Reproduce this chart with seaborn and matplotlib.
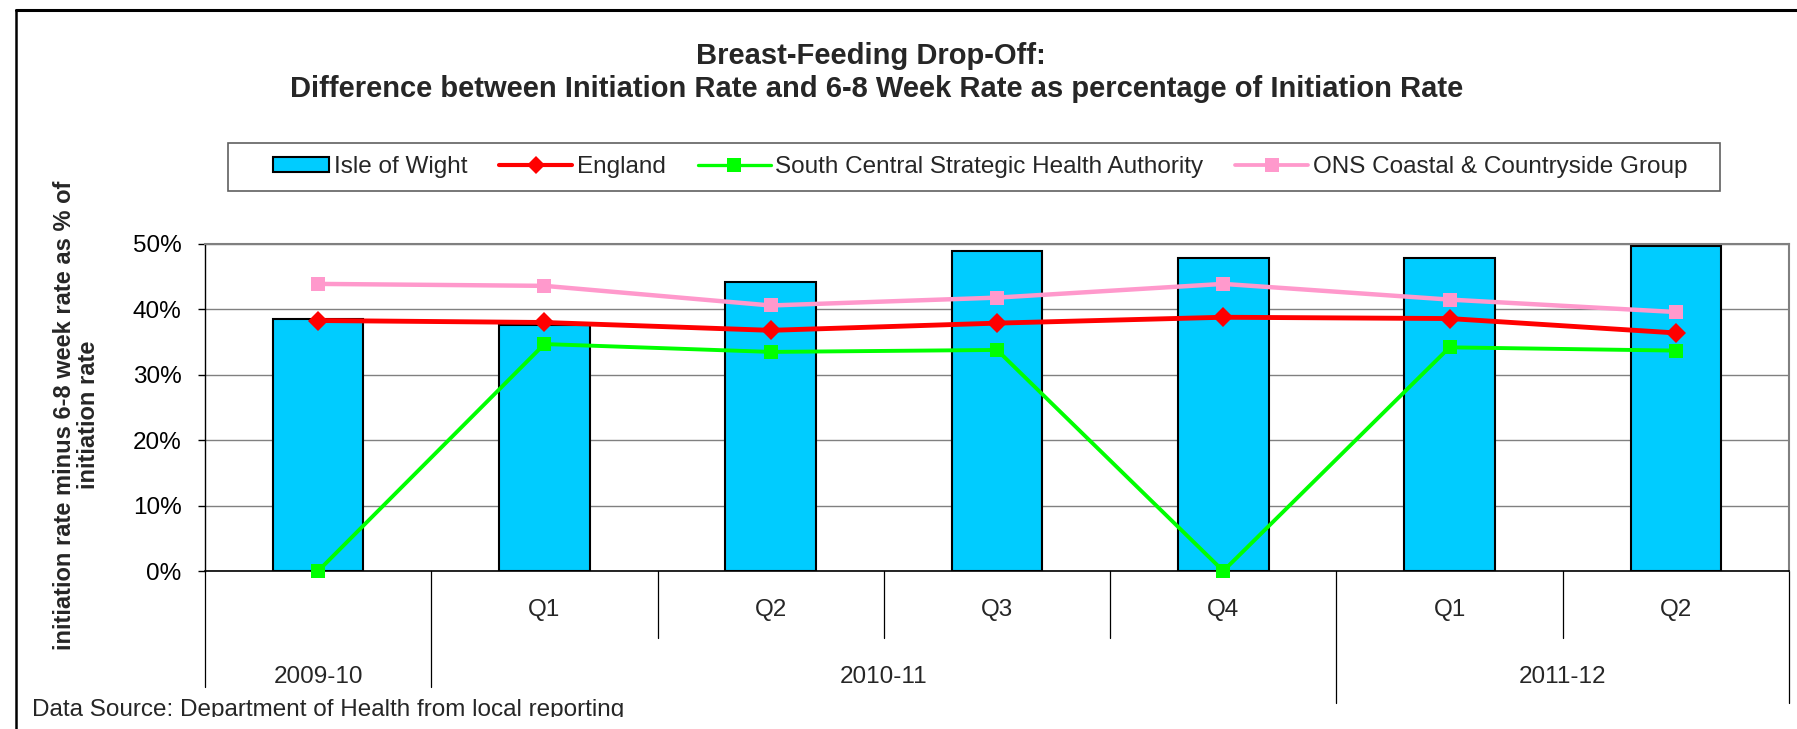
import numpy as np
import pandas as pd
import matplotlib
matplotlib.use("Agg")
import matplotlib.pyplot as plt
import seaborn as sns
from matplotlib.patches import Patch, Rectangle
from matplotlib.lines import Line2D
from matplotlib.legend_handler import HandlerPatch
from matplotlib.ticker import PercentFormatter

# ---------------- data ----------------
periods = ["2009-10", "2010-11 Q1", "2010-11 Q2", "2010-11 Q3", "2010-11 Q4", "2011-12 Q1", "2011-12 Q2"]
quarter_labels = ["", "Q1", "Q2", "Q3", "Q4", "Q1", "Q2"]
year_groups = ["2009-10", "2010-11", "2011-12"]
year_group_sizes = [1, 4, 2]

isle_of_wight = [38.6, 37.6, 44.2, 48.9, 47.9, 47.8, 49.7]
england = [38.3, 38.0, 36.8, 37.9, 38.8, 38.6, 36.4]
south_central = [0.0, 34.7, 33.5, 33.8, 0.0, 34.2, 33.7]
ons_coastal = [43.9, 43.6, 40.6, 41.8, 43.9, 41.5, 39.6]

series_names = ["Isle of Wight", "England", "South Central Strategic Health Authority",
                "ONS Coastal & Countryside Group"]

# ---------------- style ----------------
sns.set_theme(style="white")
plt.rcParams["font.family"] = ["Liberation Sans", "DejaVu Sans"]

W, H = 1797, 729
fig = plt.figure(figsize=(W / 100, H / 100), dpi=100)
fig.patch.set_facecolor("white")

def fx(px):
    return px / W

def fy(py):
    return (H - py) / H

ax_left, ax_right, ax_top, ax_bottom = 205, 1789, 244, 571
ax = fig.add_axes([fx(ax_left), fy(ax_bottom), (ax_right - ax_left) / W, (ax_bottom - ax_top) / H])
ax.set_facecolor("white")

df = pd.DataFrame({"period": periods, "iow": isle_of_wight})
sns.barplot(data=df, x="period", y="iow", order=periods, color="#00CCFF", saturation=1,
            edgecolor="black", linewidth=1.5, width=0.4, ax=ax, zorder=2)

xpos = np.arange(len(periods))
line_specs = [
    (england, "#FF0000", "D", 10, 3.5),
    (south_central, "#00FF00", "s", 10.5, 2.8),
    (ons_coastal, "#FF99CC", "s", 10.5, 3.2),
]
for vals, col, mk, ms, lw in line_specs:
    sns.lineplot(x=xpos, y=vals, color=col, marker=mk, markersize=ms, linewidth=lw,
                 markeredgecolor=col, markerfacecolor=col, markeredgewidth=0,
                 ax=ax, zorder=4, clip_on=False)

ax.set_xlim(-0.5, len(periods) - 0.5)
ax.set_ylim(0, 50)
ax.set_yticks(np.arange(0, 51, 10))
ax.yaxis.set_major_formatter(PercentFormatter(100, decimals=0))
ax.tick_params(axis="y", length=5, width=1, pad=12, labelsize=17.5, colors="black", left=True)
ax.tick_params(axis="x", length=0, labelbottom=False)
ax.set_xlabel("")
ax.set_ylabel("")
ax.yaxis.grid(True, color="#808080", linewidth=1.0)
ax.set_axisbelow(True)
if ax.get_legend():
    ax.get_legend().remove()

for side in ["top", "right"]:
    ax.spines[side].set_color("#808080")
    ax.spines[side].set_linewidth(1.5)
ax.spines["left"].set_color("black")
ax.spines["left"].set_linewidth(1.0)
ax.spines["bottom"].set_color("black")
ax.spines["bottom"].set_linewidth(1.2)

# ---------------- multi-level category axis ----------------
trans = ax.get_xaxis_transform()
plot_h = ax_bottom - ax_top
inner_depth = (638 - ax_bottom) / plot_h
group_depth = (687 - ax_bottom) / plot_h
last_group_depth = (703 - ax_bottom) / plot_h
q_y = -(610 - ax_bottom) / plot_h
g_y = -(677 - ax_bottom) / plot_h

bounds = -0.5 + np.cumsum([0] + year_group_sizes)
group_bounds = set(np.round(bounds, 2))
last_bounds = set(np.round(bounds[-2:], 2))
for b in np.arange(-0.5, len(periods), 1.0):
    rb = round(b, 2)
    if rb in last_bounds:
        d = last_group_depth
    elif rb in group_bounds:
        d = group_depth
    else:
        d = inner_depth
    ax.plot([b, b], [0, -d], color="black", lw=0.9, transform=trans, clip_on=False, zorder=1)

for i, lab in enumerate(quarter_labels):
    if lab:
        ax.text(i, q_y, lab, transform=trans, ha="center", va="center", fontsize=17.5)

for gi, g in enumerate(year_groups):
    center = (bounds[gi] + bounds[gi + 1]) / 2
    ax.text(center, g_y, g, transform=trans, ha="center", va="center", fontsize=17.5)

# ---------------- titles & labels ----------------
fig.text(fx(871), fy(56), "Breast-Feeding Drop-Off:", ha="center", va="center",
         fontsize=21, fontweight="bold")
fig.text(fx(877), fy(89),
         "Difference between Initiation Rate and 6-8 Week Rate as percentage of Initiation Rate",
         ha="center", va="center", fontsize=21, fontweight="bold")

fig.text(fx(76.5), fy(415), "initiation rate minus 6-8 week rate as % of\ninitiation rate",
         rotation=90, ha="center", va="center", multialignment="center",
         fontsize=17, fontweight="bold", linespacing=1.1)

fig.text(fx(32), fy(716), "Data Source: Department of Health from local reporting",
         ha="left", va="baseline", fontsize=17.5)
fig.add_artist(Rectangle((fx(18), 0), 1, 12 / H, transform=fig.transFigure,
                         facecolor="white", edgecolor="none", zorder=20))

# ---------------- legend ----------------
def narrow_patch(legend, orig_handle, xdescent, ydescent, width, height, fontsize):
    w2 = width * 0.77
    return Rectangle((-xdescent + width - w2, -ydescent), w2, height)

handles = [Patch(facecolor="#00CCFF", edgecolor="black", linewidth=1.5)]
for vals, col, mk, ms, lw in line_specs:
    handles.append(Line2D([0], [0], color=col, marker=mk, markersize=ms * 0.9,
                          linewidth=lw * 0.85, markeredgewidth=0))
fig.legend(handles, series_names, loc="center", bbox_to_anchor=(fx(972), fy(167)),
           ncol=4, frameon=False, fontsize=17.5, handlelength=3.0, handleheight=0.55,
           handletextpad=0.2, columnspacing=1.3, borderpad=0,
           handler_map={Patch: HandlerPatch(patch_func=narrow_patch)})
fig.add_artist(Rectangle((fx(228), fy(191)), (1720 - 228) / W, 48 / H,
                         transform=fig.transFigure, facecolor="none",
                         edgecolor="#606060", linewidth=1.2, zorder=1))

# ---------------- outer frame ----------------
fig.add_artist(Line2D([fx(16), 1], [fy(10), fy(10)], color="black", linewidth=2.2,
                      transform=fig.transFigure, zorder=30))
fig.add_artist(Line2D([fx(16), fx(16)], [0, fy(10)], color="black", linewidth=1.8,
                      transform=fig.transFigure, zorder=30))

fig.savefig("out.png", dpi=100, facecolor="white")
